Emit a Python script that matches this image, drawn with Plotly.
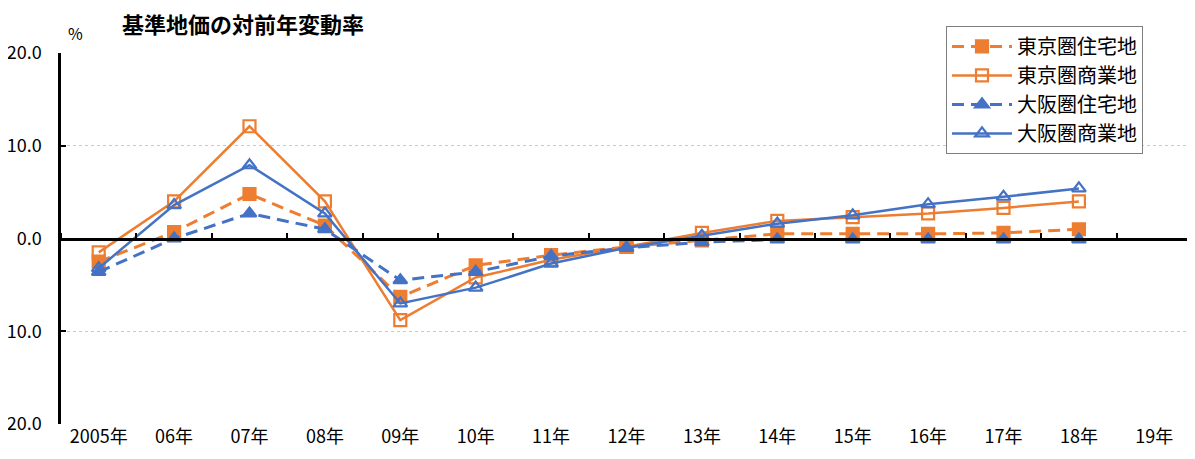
import plotly.graph_objects as go

categories = ["2005年", "06年", "07年", "08年", "09年", "10年", "11年", "12年",
              "13年", "14年", "15年", "16年", "17年", "18年", "19年"]

tokyo_res = [-2.5, 0.7, 4.8, 1.4, -6.3, -2.9, -1.8, -0.9, -0.2, 0.5, 0.5, 0.5, 0.6, 1.0]
tokyo_com = [-1.5, 4.0, 12.1, 4.0, -8.8, -4.2, -2.3, -0.9, 0.6, 1.9, 2.3, 2.7, 3.3, 4.0]
osaka_res = [-3.6, 0.0, 2.7, 1.0, -4.5, -3.6, -1.9, -1.0, -0.4, -0.1, -0.1, -0.1, -0.1, -0.1]
osaka_com = [-3.2, 3.6, 7.9, 2.7, -7.0, -5.3, -2.7, -1.0, 0.3, 1.6, 2.5, 3.7, 4.5, 5.4]

ytick_vals = [20, 10, 0, -10, -20]
ytick_text = ["20.0", "10.0", "0.0", "10.0", "20.0"]

ORANGE = "#ED7D31"
BLUE = "#4472C4"
FONT = "Noto Sans CJK JP"

fig = go.Figure()
series = [
    ("東京圏住宅地", tokyo_res, ORANGE, "12px,7px", "square", ORANGE),
    ("東京圏商業地", tokyo_com, ORANGE, "solid", "square-open", ORANGE),
    ("大阪圏住宅地", osaka_res, BLUE, "12px,7px", "triangle-up", BLUE),
    ("大阪圏商業地", osaka_com, BLUE, "solid", "triangle-up-open", BLUE),
]
for name, vals, col, dash, sym, mcol in series:
    fig.add_trace(go.Scatter(
        x=categories[:len(vals)], y=vals, name=name, mode="lines+markers",
        line=dict(color=col, width=3 if dash != "solid" else 2.5, dash=dash),
        marker=dict(symbol=sym, size=12, color=mcol, line=dict(color=col, width=2.2)),
        xaxis="x", yaxis="y",
    ))

# helper trace for the zero-line category axis
fig.add_trace(go.Scatter(x=categories, y=[None] * len(categories), xaxis="x2", yaxis="y",
                         showlegend=False, hoverinfo="skip"))

fig.update_layout(
    width=1187, height=451,
    margin=dict(l=53, r=3, t=45, b=35, autoexpand=False),
    paper_bgcolor="white", plot_bgcolor="white",
    font=dict(family=FONT, size=18, color="#000"),
    xaxis=dict(type="category", categoryorder="array", categoryarray=categories,
               range=[-0.5, 14.5], showgrid=False, showline=False, ticks="",
               tickfont=dict(size=18), zeroline=False, automargin=False),
    xaxis2=dict(type="category", categoryorder="array", categoryarray=categories,
                range=[-0.5, 14.5], overlaying="x", anchor="free", position=0.5,
                side="top", showline=True, linecolor="#000", linewidth=2.5,
                ticks="outside", ticklen=5, tickwidth=1.5, tickcolor="#000",
                tickson="boundaries", showticklabels=False, showgrid=False,
                zeroline=False, automargin=False),
    yaxis=dict(range=[-20, 20], tickvals=ytick_vals, ticktext=ytick_text,
               showgrid=True, gridcolor="#C8C8C8", griddash="dot", gridwidth=1,
               showline=True, linecolor="#000", linewidth=2.5,
               ticks="inside", ticklen=5, tickcolor="#000", tickwidth=1.5,
               zeroline=False, tickfont=dict(size=18), ticklabelstandoff=13,
               automargin=False),
    legend=dict(x=0.7825, y=1.073, xanchor="left", yanchor="top",
                bordercolor="#7F7F7F", borderwidth=1, bgcolor="white",
                font=dict(size=20, family=FONT), tracegroupgap=0,
                itemwidth=60),
    annotations=[
        dict(text="<b>基準地価の対前年変動率</b>", x=0.052, y=1.081, xref="paper", yref="paper",
             xanchor="left", yanchor="middle", showarrow=False, font=dict(size=22, family=FONT)),
        dict(text="%", x=0.013, y=1.055, xref="paper", yref="paper",
             xanchor="center", yanchor="middle", showarrow=False, font=dict(size=16, family=FONT)),
    ],
)

fig.write_html("out.html")
